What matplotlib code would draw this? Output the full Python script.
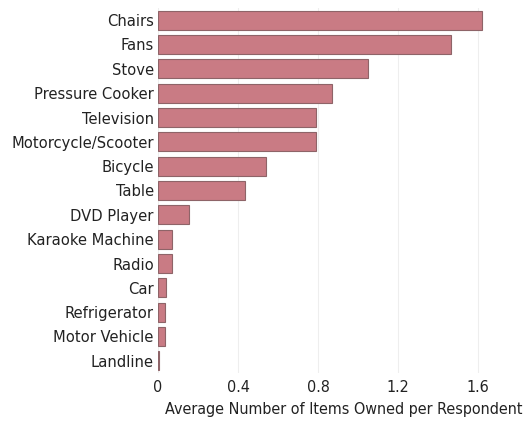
import numpy as np
import matplotlib
matplotlib.use('Agg')
import matplotlib.pyplot as plt

items = ['Chairs', 'Fans', 'Stove', 'Pressure Cooker', 'Television',
         'Motorcycle/Scooter', 'Bicycle', 'Table', 'DVD Player',
         'Karaoke Machine', 'Radio', 'Car', 'Refrigerator',
         'Motor Vehicle', 'Landline']
avg_owned = [1.62, 1.465, 1.05, 0.87, 0.79, 0.79, 0.54, 0.435, 0.155,
             0.07, 0.07, 0.04, 0.035, 0.035, 0.005]
tick_vals = [0, 0.4, 0.8, 1.2, 1.6]
tick_labels = ['0', '0.4', '0.8', '1.2', '1.6']

plt.rcParams['font.family'] = ['DejaVu Sans']
plt.rcParams['font.stretch'] = 'condensed'

fig = plt.figure(figsize=(5.31, 4.30), dpi=100)
ax = fig.add_axes([158/531, 1 - 373/430, (530-158)/531, (373-8)/430])

y = np.arange(len(items))
ax.barh(y, avg_owned, height=0.78, color='#c97b84', edgecolor='#8e6468',
        linewidth=0.8, zorder=3)

ax.set_ylim(len(items) - 0.5, -0.5)
ax.set_xlim(0, 1.86)
ax.set_yticks(y)
ax.set_yticklabels(items, fontsize=11.8, color='#222222')
ax.set_xticks(tick_vals)
ax.set_xticklabels(tick_labels, fontsize=11.5, color='#222222')
ax.tick_params(length=0, pad=3)
ax.tick_params(axis='x', pad=5)
ax.grid(axis='x', color='#eeeeee', linewidth=0.8, zorder=0)
for s in ax.spines.values():
    s.set_visible(False)
ax.set_xlabel('Average Number of Items Owned per Respondent', fontsize=11.5,
              color='#222222', labelpad=5)

fig.savefig('out.png', dpi=100)
